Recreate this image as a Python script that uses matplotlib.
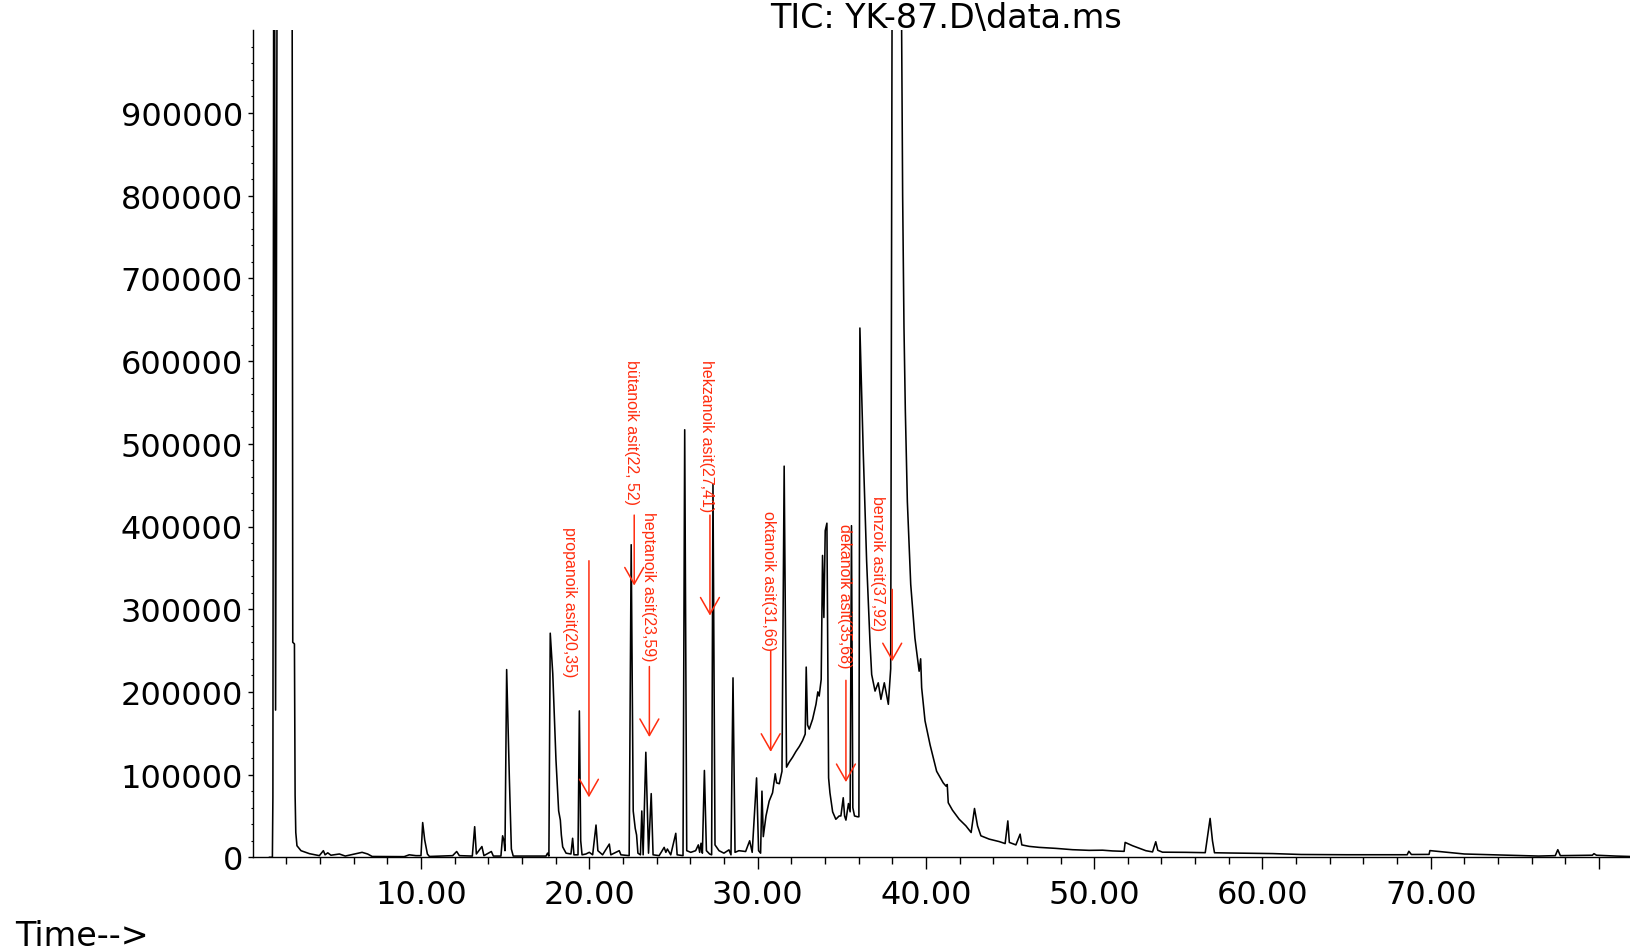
#!/usr/bin/env python3
# -*- coding: utf-8 -*-
"""
TIC chromatogram YK-87.D with labelled organic acid peaks.
"""

import numpy as np
import matplotlib.pyplot as plt
from matplotlib.ticker import FixedLocator, FuncFormatter

# --- trace vertices (time in min, abundance) ---
t_min = [
    1.00, 1.17, 1.20, 1.27, 1.36, 1.50, 2.32, 2.38, 2.48, 2.52,
    2.56, 2.63, 2.87, 3.37, 3.96, 4.20, 4.30, 4.46, 4.65, 5.15, 5.50, 6.50, 6.83, 7.10,
    9.00, 9.30, 9.70, 10.00, 10.10, 10.22, 10.38, 10.50, 11.88, 12.12, 12.28, 13.05, 13.19,
    13.29, 13.62, 13.74, 14.18, 14.30, 14.75, 14.85, 14.93, 14.99, 15.09, 15.25, 15.37, 15.48,
    17.43, 17.52, 17.60, 17.68, 17.83, 18.02, 18.18, 18.28, 18.34, 18.42, 18.62, 18.91, 19.01,
    19.09, 19.33, 19.41, 19.49, 19.57, 19.80, 20.00, 20.20, 20.40, 20.51, 20.79, 21.19, 21.28,
    21.78, 21.88, 22.37, 22.49, 22.61, 22.73, 22.81, 22.89, 23.04, 23.12, 23.20, 23.36, 23.52,
    23.68, 23.79, 24.15, 24.45, 24.55, 24.64, 24.84, 25.14, 25.22, 25.57, 25.67, 25.79, 26.03,
    26.32, 26.48, 26.56, 26.64, 26.72, 26.84, 26.96, 27.15, 27.27, 27.35, 27.47, 27.71, 28.00,
    28.30, 28.42, 28.54, 28.66, 28.89, 29.29, 29.53, 29.68, 29.94, 30.06, 30.18, 30.26, 30.34,
    30.50, 30.69, 30.89, 31.05, 31.13, 31.29, 31.45, 31.58, 31.72, 31.88, 32.08, 32.28, 32.48,
    32.67, 32.83, 32.89, 32.97, 33.07, 33.27, 33.47, 33.58, 33.66, 33.78, 33.86, 33.94, 34.02,
    34.12, 34.18, 34.22, 34.30, 34.46, 34.65, 34.85, 34.95, 35.09, 35.17, 35.25, 35.40, 35.50,
    35.58, 35.66, 35.76, 35.94, 36.02, 36.08, 36.28, 36.48, 36.68, 36.78, 36.98, 37.17, 37.33,
    37.53, 37.77, 37.91, 38.05, 38.45, 38.56, 38.62, 38.70, 38.78, 38.90, 39.10, 39.35, 39.60,
    39.69, 39.75, 39.95, 40.25, 40.64, 41.03, 41.20, 41.27, 41.33, 41.58, 41.98, 42.38, 42.69,
    42.89, 43.07, 43.27, 43.76, 44.36, 44.71, 44.87, 44.96, 45.35, 45.60, 45.70, 46.14, 46.73,
    47.72, 48.71, 49.70, 50.50, 51.09, 51.78, 51.84, 52.28, 53.07, 53.47, 53.66, 53.78, 54.06,
    55.45, 56.60, 56.89, 57.03, 57.15, 58.02, 60.60, 62.00, 62.30, 65.00, 68.60, 68.70, 68.85,
    69.90, 69.95, 72.00, 76.40, 77.40, 77.55, 77.70, 79.60, 79.70, 79.85, 81.00, 81.84,
]
tic = [
    0, 0, 73000, 1600000, 178000, 1600000, 1600000, 260000, 258000, 75000,
    30000, 14000, 8000, 4400, 2000, 8000, 3000, 5400, 2500, 4000, 1500, 6000, 4000, 1000,
    800, 3000, 2000, 2000, 42000, 21000, 4000, 1000, 2000, 7000, 2000, 1500, 37000,
    4000, 13000, 2000, 7000, 1500, 1500, 26000, 20000, 8000, 227000, 96000, 10000, 1500,
    1500, 5000, 1500, 271000, 222000, 118000, 56000, 45000, 27000, 12600, 5000, 4000, 23000,
    3000, 3000, 177000, 20000, 3000, 4000, 6000, 3000, 39000, 8000, 3000, 16000, 3000,
    8000, 3000, 2000, 378000, 56000, 35000, 27000, 5000, 3000, 56000, 3000, 127000, 5000,
    77000, 3000, 2000, 12000, 6000, 10000, 3000, 29000, 3000, 2000, 517000, 8000, 6000,
    8000, 15000, 6000, 17000, 5000, 105000, 8000, 4000, 3000, 451000, 15000, 8000, 5000,
    9000, 3000, 217000, 6000, 8000, 7000, 20000, 6000, 96000, 8000, 5000, 80000, 25000,
    50000, 68000, 78000, 101000, 90000, 89000, 104000, 473000, 109000, 115000, 121000, 128000, 134000,
    141000, 149000, 230000, 160000, 155000, 167000, 185000, 200000, 195000, 215000, 365000, 290000, 395000,
    404000, 217000, 96000, 78000, 55000, 46000, 50000, 50000, 72000, 50000, 45000, 65000, 55000,
    401000, 60000, 50000, 49000, 49000, 640000, 489000, 358000, 260000, 221000, 201000, 211000, 191000,
    211000, 185000, 228000, 1600000, 1600000, 1000000, 800000, 640000, 540000, 430000, 330000, 265000, 225000,
    240000, 205000, 165000, 136000, 104000, 90000, 86000, 88000, 66000, 57000, 46000, 38000, 30000,
    59000, 38000, 26000, 22000, 19000, 16600, 44000, 18000, 15000, 28000, 15000, 13200, 12000,
    10800, 9200, 8400, 8600, 7700, 7200, 18000, 14000, 8000, 6500, 18800, 8500, 6200,
    6000, 5600, 47000, 20000, 5500, 5200, 4500, 3700, 3400, 3100, 3100, 7300, 3400,
    3500, 8100, 4000, 1500, 2000, 9200, 2000, 2500, 4400, 2500, 1500, 1000,
]

# --- labelled compounds ---
acid_labels = [
    "propanoik asit(20,35)",
    "bütanoik asit(22, 52)",
    "heptanoik asit(23,59)",
    "hekzanoik asit(27,41)",
    "oktanoik asit(31,66)",
    "dekanoik asit(35,68)",
    "benzoik asit(37,92)",
]
label_x = [18.85, 22.48, 23.51, 26.99, 30.62, 35.19, 37.11]
label_top = [400500, 603000, 419000, 603000, 420500, 404000, 438000]
arrow_x = [19.98, 22.67, 23.57, 27.17, 30.78, 35.25, 38.00]
arrow_from = [358600, 413800, 230700, 413800, 250000, 214000, 324000]
arrow_to = [72500, 328600, 145400, 292300, 127500, 90900, 237000]

x_major = [10, 20, 30, 40, 50, 60, 70, 80]
x_minor = [v for v in range(2, 82, 2) if v % 10]
y_major = list(range(0, 1000000, 100000))

RED = "#ff2d0f"


def main() -> int:
    fig = plt.figure(figsize=(16.3, 9.53), dpi=100)
    ax = fig.add_axes([252.7 / 1630, 1 - 858.3 / 953, 1 - 252.7 / 1630, (858.3 - 31.3) / 953])

    ax.plot(t_min, tic, color="black", linewidth=1.15)
    ax.set_xlim(0, 81.84)
    ax.set_ylim(0, 1000000)

    for s in ["top", "right"]:
        ax.spines[s].set_visible(False)
    for s in ["left", "bottom"]:
        ax.spines[s].set_linewidth(1.0)

    ax.xaxis.set_major_locator(FixedLocator(x_major))
    ax.xaxis.set_minor_locator(FixedLocator(x_minor))
    ax.xaxis.set_major_formatter(FuncFormatter(lambda v, p: f"{v:.2f}" if v < 75 else ""))
    ax.yaxis.set_major_locator(FixedLocator(y_major))
    ax.yaxis.set_minor_locator(FixedLocator(list(range(20000, 1000000, 20000))))
    ax.yaxis.set_major_formatter(FuncFormatter(lambda v, p: f"{int(v)}"))

    ax.tick_params(axis="x", which="major", direction="out", length=8.5, width=1.0, pad=7,
                   labelsize=23)
    ax.tick_params(axis="x", which="minor", direction="out", length=5, width=1.0)
    ax.tick_params(axis="y", which="major", direction="out", length=3.6, width=1.0, pad=3.5,
                   labelsize=23)
    ax.tick_params(axis="y", which="minor", direction="out", length=1.8, width=0.8)
    for lab in ax.get_xticklabels() + ax.get_yticklabels():
        lab.set_fontfamily("DejaVu Sans")

    for txt, lx, ly in zip(acid_labels, label_x, label_top):
        ax.text(lx, ly, txt, rotation=270, ha="center", va="top", color=RED,
                fontsize=11.5, family="Liberation Sans")
    for ax_x, y0, y1 in zip(arrow_x, arrow_from, arrow_to):
        ax.annotate("", xy=(ax_x, y1), xytext=(ax_x, y0),
                    arrowprops=dict(arrowstyle="->,head_length=11.9,head_width=6.8",
                                    mutation_scale=1, color=RED, lw=1.1,
                                    shrinkA=0, shrinkB=0))

    fig.text(946 / 1630, 1 - 28 / 953, r"TIC: YK-87.D\data.ms", ha="center", va="baseline",
             fontsize=24, family="DejaVu Sans")
    fig.text(15 / 1630, 1 - 946 / 953, "Time-->", ha="left", va="baseline",
             fontsize=24, family="DejaVu Sans")

    fig.savefig("out.png", dpi=100)
    plt.close(fig)
    return 0


if __name__ == "__main__":
    raise SystemExit(main())
